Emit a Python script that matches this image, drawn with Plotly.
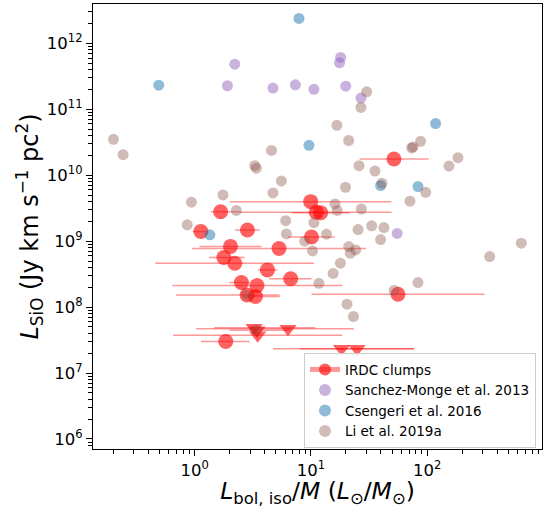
import plotly.graph_objects as go

# IRDC clumps with SiO detections: L_bol,iso/M, L_SiO and the range of L/M
irdc_lm = [9.94, 1.67, 11.1, 12.1, 1.13, 2.84, 10.1, 2.03, 5.31, 1.78,
           2.21, 4.22, 6.69, 2.52, 3.43, 2.82, 3.33, 56.0, 1.85, 51.7]
irdc_lsio = [3.98e9, 2.8e9, 2.75e9, 2.71e9, 1.40e9, 1.48e9, 1.16e9, 8.34e8, 7.73e8, 5.65e8,
             4.64e8, 3.67e8, 2.69e8, 2.36e8, 2.12e8, 1.53e8, 1.45e8, 1.57e8, 3.01e7, 1.77e10]
irdc_lm_lo = [2.0, 1.37, 2.44, 6.82, 0.96, 2.23, 6.34, 1.10, 0.95, 1.33,
              0.457, 3.50, 4.35, 1.97, 0.643, 0.687, 2.59, 10.1, 1.13, 26.2]
irdc_lm_hi = [49.1, 2.44, 49.4, 21.5, 1.29, 3.62, 16.0, 3.75, 29.8, 2.69,
              10.6, 5.14, 10.1, 2.97, 18.5, 5.38, 5.38, 312.0, 2.97, 103.0]

# IRDC clumps with SiO upper limits
ul_lm = [3.24, 3.43, 3.48, 6.34, 18.3, 24.9]
ul_lsio = [4.85e7, 4.45e7, 3.74e7, 4.69e7, 2.33e7, 2.33e7]
ul_lm_lo = [1.47, 2.0, 0.651, 1.03, 4.71, 8.0]
ul_lm_hi = [10.9, 6.56, 18.6, 23.3, 76.9, 76.9]

# Sanchez-Monge et al. 2013
sm_lm = [2.21, 1.91, 4.71, 7.34, 18.0, 17.6, 10.6, 19.9, 26.9, 55.1]
sm_lsio = [4.85e11, 2.28e11, 2.1e11, 2.36e11, 6.14e11, 5.08e11, 2.01e11, 2.25e11, 1.48e11, 1.31e9]

# Csengeri et al. 2016
cs_lm = [0.49, 7.88, 9.6, 118.0, 39.7, 83.2, 1.35]
cs_lsio = [2.33e11, 2.39e12, 2.85e10, 6.1e10, 7.0e9, 6.76e9, 1.25e9]

# Li et al. 2019a
li_lm = [0.2, 0.242, 3.28, 3.39, 4.57, 5.56, 4.71, 1.75, 0.937, 30.1,
         26.9, 16.7, 21.1, 75.4, 73.5, 87.7, 25.9, 35.5, 153.7, 183.6,
         19.8, 40.8, 96.9, 71.0, 2.28, 0.862, 6.06, 10.6, 16.1, 16.8,
         27.1, 6.14, 8.83, 10.3, 13.6, 21.1, 21.8, 24.2, 17.9, 15.5,
         11.7, 25.4, 33.3, 42.4, 39.7, 644.0, 344.0, 83.2, 51.9, 20.4,
         23.2, 2.82, 3.38]
li_lsio = [3.51e10, 2.05e10, 1.40e10, 1.28e10, 2.38e10, 8.2e9, 5.4e9, 5.04e9, 3.9e9, 1.85e11,
           1.07e11, 5.73e10, 3.37e10, 2.69e10, 2.6e10, 3.27e10, 1.40e10, 1.16e10, 1.38e10, 1.85e10,
           6.58e9, 7.57e9, 5.52e9, 4.04e9, 2.93e9, 1.77e9, 2.05e9, 1.91e9, 3.67e9, 2.93e9,
           3.08e9, 1.29e9, 1.0e9, 7.13e8, 1.28e9, 8.28e8, 6.58e8, 7.38e8, 4.64e8, 3.25e8,
           2.3e8, 1.5e9, 1.71e9, 1.61e9, 1.06e9, 9.33e8, 5.85e8, 2.36e8, 1.79e8, 1.11e8,
           7.21e7, 1.53e8, 4.53e7]

x_ticks = [1, 10, 100]
x_ticktext = ["10<sup>0</sup>", "10<sup>1</sup>", "10<sup>2</sup>"]
y_ticks = [1e6, 1e7, 1e8, 1e9, 1e10, 1e11, 1e12]
y_ticktext = ["10<sup>%d</sup>" % k for k in range(6, 13)]

RED = "rgba(255,0,0,0.62)"
RED_BAR = "rgba(255,0,0,0.4)"
FONT = "DejaVu Sans"


def err_plus(x, hi):
    return [h - v for v, h in zip(x, hi)]


def err_minus(x, lo):
    return [v - l for v, l in zip(x, lo)]


fig = go.Figure()

fig.add_trace(go.Scatter(
    x=irdc_lm, y=irdc_lsio, mode="markers", showlegend=False,
    marker=dict(symbol="circle", size=15, color=RED, line=dict(width=0)),
    error_x=dict(type="data", symmetric=False,
                 array=err_plus(irdc_lm, irdc_lm_hi),
                 arrayminus=err_minus(irdc_lm, irdc_lm_lo),
                 color=RED_BAR, thickness=1.5, width=0),
))

fig.add_trace(go.Scatter(
    x=ul_lm, y=ul_lsio, mode="markers", showlegend=False,
    marker=dict(symbol="triangle-down", size=15, color=RED, line=dict(width=0)),
    error_x=dict(type="data", symmetric=False,
                 array=err_plus(ul_lm, ul_lm_hi),
                 arrayminus=err_minus(ul_lm, ul_lm_lo),
                 color=RED_BAR, thickness=1.5, width=0),
))

# legend entry for the IRDC clumps: marker with its error bar line
fig.add_trace(go.Scatter(
    x=[None], y=[None], mode="lines+markers", name="IRDC clumps",
    marker=dict(symbol="circle", size=15, color=RED),
    line=dict(color=RED_BAR, width=1.5),
))

fig.add_trace(go.Scatter(
    x=sm_lm, y=sm_lsio, mode="markers", name="Sanchez-Monge et al. 2013",
    marker=dict(size=11, color="rgba(148,103,189,0.5)", line=dict(width=0)),
))
fig.add_trace(go.Scatter(
    x=cs_lm, y=cs_lsio, mode="markers", name="Csengeri et al. 2016",
    marker=dict(size=11, color="rgba(31,119,180,0.5)", line=dict(width=0)),
))
fig.add_trace(go.Scatter(
    x=li_lm, y=li_lsio, mode="markers", name="Li et al. 2019a",
    marker=dict(size=11, color="rgba(140,86,75,0.4)", line=dict(width=0)),
))

x_minor = [m * 10 ** k for k in range(-1, 3) for m in range(2, 10)]
y_minor = [m * 10 ** k for k in range(5, 13) for m in range(2, 10)]

axis_common = dict(
    type="log", showgrid=False, zeroline=False,
    showline=True, linecolor="black", linewidth=1.3, mirror=True,
    ticks="outside", ticklen=6, tickwidth=1.1, tickcolor="black",
    tickfont=dict(family=FONT, size=16.5, color="black"),
)

fig.update_xaxes(
    **axis_common,
    range=[-0.875, 2.987],
    tickvals=x_ticks, ticktext=x_ticktext,
    minor=dict(tickvals=x_minor, ticks="outside", ticklen=3.5, tickwidth=0.9, tickcolor="black"),
    title=dict(text="<i>L</i><sub>bol, iso</sub>/<i>M</i> (<i>L</i><sub>⊙</sub>/<i>M</i><sub>⊙</sub>)",
               font=dict(family=FONT, size=23.5, color="black"), standoff=6),
)
fig.update_yaxes(
    **axis_common,
    range=[5.848, 12.598],
    tickvals=y_ticks, ticktext=y_ticktext,
    minor=dict(tickvals=y_minor, ticks="outside", ticklen=3.5, tickwidth=0.9, tickcolor="black"),
    title=dict(text="<i>L</i><sub>SiO</sub> (Jy km s<sup>−1</sup> pc<sup>2</sup>)",
               font=dict(family=FONT, size=24, color="black"), standoff=0),
)

fig.update_layout(
    width=553, height=508,
    margin=dict(l=93, r=11, t=4, b=59, autoexpand=False),
    paper_bgcolor="white", plot_bgcolor="white",
    font=dict(family=FONT, color="black"),
    legend=dict(
        x=0.9866, xanchor="right", y=0.002, yanchor="bottom",
        bgcolor="rgba(255,255,255,0.8)", bordercolor="#cccccc", borderwidth=1,
        font=dict(family=FONT, size=13.5, color="black"),
        tracegroupgap=0, itemsizing="constant",
    ),
)

fig.write_html("out.html")
